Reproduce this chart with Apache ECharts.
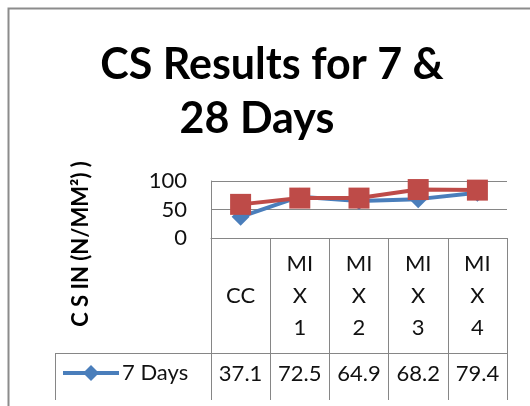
<!DOCTYPE html>
<html>
<head>
<meta charset="utf-8">
<script src="https://cdn.jsdelivr.net/npm/echarts@6/dist/echarts.min.js"></script>
<style>
  html, body { margin: 0; padding: 0; background: #fff; }
  #chart { width: 530px; height: 406px; }
</style>
</head>
<body>
<div id="chart"></div>
<script>
// values
const categories = ["CC", "MIX 1", "MIX 2", "MIX 3", "MIX 4"];
const sevenDays = [37.1, 72.5, 64.9, 68.2, 79.4];
const twentyEightDays = [59, 70, 70, 85, 84];
const yTicks = [0, 50, 100];

const font = "Lato";
const grey = "#868686";

const chart = echarts.init(document.getElementById("chart"));

const wrapCategory = function (v) {
  // the table header wraps the names in narrow columns
  if (v.indexOf("MIX") === 0) {
    return "MI\nX\n" + v.split(" ")[1];
  }
  return v;
};

chart.setOption({
  backgroundColor: "#fff",
  animation: false,
  textStyle: { fontFamily: font },
  legend: {
    left: 61,
    top: 362,
    padding: 0,
    itemWidth: 56,
    itemHeight: 20,
    itemGap: 4,
    data: ["7 Days"],
    lineStyle: { width: 4 },
    textStyle: { fontSize: 22, color: "#111", fontFamily: font, padding: [0, 0, 0, -2] }
  },
  grid: {
    left: 211,
    right: 23,
    top: 181,
    height: 57
  },
  xAxis: [
    {
      type: "category",
      data: categories,
      boundaryGap: true,
      axisLine: { lineStyle: { color: grey, width: 1 } },
      axisTick: { show: true, interval: 0, length: 115, lineStyle: { color: grey, width: 1 } },
      axisLabel: {
        formatter: wrapCategory,
        verticalAlign: "middle",
        margin: 58,
        lineHeight: 32,
        fontSize: 22,
        color: "#111",
        fontFamily: font
      }
    },
    {
      type: "category",
      data: categories,
      position: "bottom",
      offset: 115,
      boundaryGap: true,
      axisLine: { lineStyle: { color: grey, width: 1 } },
      axisTick: { show: true, interval: 0, length: 47, lineStyle: { color: grey, width: 1 } },
      axisLabel: {
        formatter: function (v, i) {
          return sevenDays[i].toFixed(1);
        },
        verticalAlign: "middle",
        margin: 21,
        fontSize: 22,
        color: "#111",
        fontFamily: font
      }
    }
  ],
  yAxis: {
    type: "value",
    min: yTicks[0],
    max: yTicks[yTicks.length - 1],
    interval: yTicks[1] - yTicks[0],
    axisLine: { show: true, lineStyle: { color: grey, width: 1 } },
    axisTick: { show: false },
    splitLine: { lineStyle: { color: grey, width: 1 } },
    axisLabel: { fontSize: 22, color: "#111", margin: 24, fontFamily: font }
  },
  series: [
    {
      name: "7 Days",
      type: "line",
      data: sevenDays,
      symbol: "diamond",
      symbolSize: 18,
      itemStyle: { color: "#4A7EBB" },
      lineStyle: { color: "#4A7EBB", width: 4 }
    },
    {
      name: "28 Days",
      type: "line",
      data: twentyEightDays,
      symbol: "rect",
      symbolSize: 21,
      itemStyle: { color: "#BE4B48" },
      lineStyle: { color: "#BE4B48", width: 4 }
    }
  ],
  graphic: [
    {
      type: "rect",
      shape: { x: 8.5, y: 8.5, width: 560, height: 440 },
      style: { fill: "none", stroke: "#8c8c8c", lineWidth: 2 }
    },
    {
      type: "text",
      x: 272,
      y: 65,
      style: {
        text: "CS Results for 7 &",
        font: "bold 43px " + font,
        fill: "#000",
        textAlign: "center",
        textVerticalAlign: "middle"
      }
    },
    {
      type: "text",
      x: 257,
      y: 119,
      style: {
        text: "28 Days",
        font: "bold 43px " + font,
        fill: "#000",
        textAlign: "center",
        textVerticalAlign: "middle"
      }
    },
    {
      type: "text",
      x: 81,
      y: 244,
      rotation: Math.PI / 2,
      style: {
        text: "C S IN (N/MM²) )",
        font: "bold 22px " + font,
        fill: "#000",
        textAlign: "center",
        textVerticalAlign: "middle"
      }
    },
    {
      type: "line",
      shape: { x1: 55, y1: 353.5, x2: 211, y2: 353.5 },
      style: { stroke: grey, lineWidth: 1 }
    },
    {
      type: "line",
      shape: { x1: 55.5, y1: 353, x2: 55.5, y2: 400 },
      style: { stroke: grey, lineWidth: 1 }
    }
  ]
});
</script>
</body>
</html>
